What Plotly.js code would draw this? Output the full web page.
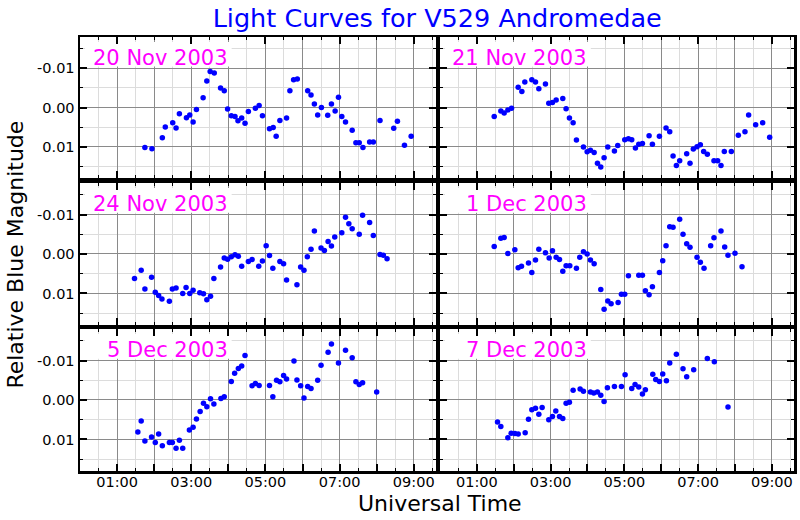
<!DOCTYPE html>
<html>
<head>
<meta charset="utf-8">
<script src="https://cdn.plot.ly/plotly-3.0.1.min.js"></script>
<style>html,body{margin:0;padding:0;background:#fff;}#chart{width:800px;height:520px;}</style>
</head>
<body>
<div id="chart"></div>
<script>
// ---- Data (UT hours, relative blue magnitude) ----
const dateLabels = ["20 Nov 2003", "21 Nov 2003", "24 Nov 2003", "1 Dec 2003", "5 Dec 2003", "7 Dec 2003"];

const t20Nov = [1.75,1.94,2.22,2.30,2.50,2.59,2.68,2.87,2.96,3.05,3.14,3.32,3.42,3.51,3.62,3.79,3.89,3.98,4.08,4.18,4.26,4.36,4.45,4.54,4.73,4.83,4.92,5.11,5.21,5.29,5.39,5.57,5.66,5.76,5.86,6.14,6.23,6.32,6.41,6.51,6.68,6.78,6.88,6.97,7.06,7.16,7.34,7.44,7.53,7.63,7.81,7.91,8.09,8.46,8.56,8.75,8.93];
const m20Nov = [0.0102,0.0105,0.0077,0.0050,0.0039,0.0052,0.0016,0.0026,0.0019,0.0037,0.0005,-0.0025,-0.0068,-0.0092,-0.0088,-0.0050,-0.0043,0.0004,0.0021,0.0023,0.0034,0.0027,0.0040,0.0010,0.0002,-0.0005,0.0021,0.0054,0.0051,0.0073,0.0033,0.0027,-0.0043,-0.0071,-0.0073,-0.0043,-0.0032,-0.0009,0.0019,0.0000,0.0020,-0.0009,0.0009,-0.0026,0.0023,0.0037,0.0058,0.0090,0.0090,0.0102,0.0088,0.0088,0.0033,0.0053,0.0035,0.0096,0.0073];

const t21Nov = [1.47,1.65,1.74,1.84,1.94,2.12,2.22,2.30,2.49,2.59,2.68,2.86,2.95,3.05,3.15,3.33,3.42,3.51,3.61,3.70,3.89,3.99,4.08,4.18,4.27,4.36,4.45,4.55,4.73,4.82,5.01,5.11,5.20,5.30,5.39,5.49,5.67,5.76,5.95,6.13,6.23,6.32,6.41,6.50,6.69,6.78,6.87,6.97,7.06,7.15,7.25,7.43,7.53,7.62,7.71,7.90,8.09,8.27,8.37,8.56,8.75,8.94];
const m21Nov = [0.0023,0.0009,0.0014,0.0006,0.0002,-0.0052,-0.0041,-0.0065,-0.0071,-0.0065,-0.0048,-0.0060,-0.0011,-0.0013,-0.0019,-0.0023,0.0003,0.0027,0.0039,0.0083,0.0101,0.0113,0.0109,0.0115,0.0142,0.0152,0.0128,0.0101,0.0111,0.0097,0.0082,0.0080,0.0082,0.0103,0.0094,0.0092,0.0072,0.0094,0.0073,0.0052,0.0062,0.0124,0.0148,0.0136,0.0118,0.0142,0.0106,0.0100,0.0095,0.0112,0.0119,0.0136,0.0136,0.0148,0.0112,0.0112,0.0071,0.0062,0.0019,0.0044,0.0039,0.0076];

const t24Nov = [1.47,1.65,1.75,1.93,2.03,2.12,2.21,2.41,2.49,2.59,2.77,2.86,2.96,3.05,3.23,3.33,3.42,3.52,3.61,3.79,3.89,3.98,4.08,4.18,4.27,4.36,4.54,4.64,4.82,4.92,5.02,5.11,5.20,5.39,5.49,5.57,5.85,5.95,6.04,6.13,6.23,6.32,6.50,6.59,6.69,6.78,6.87,7.06,7.16,7.25,7.34,7.53,7.62,7.81,7.91,8.09,8.18,8.28];
const m24Nov = [0.0062,0.0041,0.0089,0.0059,0.0097,0.0105,0.0114,0.0120,0.0089,0.0086,0.0100,0.0085,0.0100,0.0092,0.0098,0.0101,0.0116,0.0107,0.0062,0.0033,0.0010,0.0013,0.0007,0.0002,0.0006,0.0031,0.0019,0.0014,0.0031,0.0018,-0.0021,0.0004,0.0036,0.0019,0.0025,0.0066,0.0078,0.0033,0.0041,0.0007,-0.0012,-0.0058,-0.0015,-0.0009,-0.0032,-0.0020,-0.0043,-0.0054,-0.0093,-0.0077,-0.0064,-0.0050,-0.0098,-0.0080,-0.0047,0.0001,0.0003,0.0012];

const t01Dec = [1.47,1.65,1.74,1.84,2.03,2.12,2.21,2.40,2.49,2.59,2.68,2.86,2.96,3.05,3.15,3.24,3.33,3.42,3.52,3.70,3.79,3.89,3.99,4.08,4.18,4.36,4.45,4.55,4.64,4.83,4.92,5.01,5.11,5.39,5.49,5.57,5.67,5.76,5.95,6.04,6.13,6.23,6.32,6.50,6.59,6.69,6.78,6.97,7.06,7.16,7.34,7.43,7.62,7.72,7.81,8.00,8.19];
const m01Dec = [-0.0019,-0.0040,-0.0042,-0.0001,-0.0011,0.0035,0.0031,0.0023,0.0047,0.0015,-0.0012,-0.0003,0.0010,-0.0008,0.0008,0.0014,0.0044,0.0030,0.0030,0.0036,0.0008,-0.0006,0.0000,0.0015,0.0025,0.0090,0.0140,0.0119,0.0126,0.0123,0.0102,0.0102,0.0055,0.0054,0.0054,0.0093,0.0103,0.0083,0.0047,0.0017,-0.0021,-0.0069,-0.0068,-0.0088,-0.0050,-0.0026,-0.0017,0.0008,0.0021,0.0036,-0.0021,-0.0041,-0.0058,-0.0018,0.0003,-0.0002,0.0032];

const t05Dec = [1.56,1.65,1.75,1.93,2.03,2.12,2.22,2.41,2.49,2.59,2.68,2.77,2.95,3.05,3.14,3.24,3.33,3.42,3.52,3.61,3.80,3.89,4.08,4.17,4.27,4.36,4.45,4.64,4.73,4.83,5.11,5.20,5.30,5.39,5.49,5.57,5.77,5.85,5.95,6.04,6.14,6.23,6.41,6.50,6.69,6.78,6.97,7.16,7.34,7.44,7.53,7.62,8.00];
const m05Dec = [0.0081,0.0053,0.0104,0.0094,0.0108,0.0086,0.0116,0.0108,0.0108,0.0122,0.0102,0.0122,0.0076,0.0069,0.0048,0.0029,0.0008,0.0017,-0.0003,0.0010,-0.0004,-0.0008,-0.0047,-0.0068,-0.0080,-0.0086,-0.0113,-0.0036,-0.0042,-0.0037,-0.0037,-0.0008,-0.0050,-0.0046,-0.0062,-0.0053,-0.0099,-0.0051,-0.0036,-0.0005,-0.0034,-0.0029,-0.0050,-0.0088,-0.0121,-0.0142,-0.0094,-0.0126,-0.0107,-0.0046,-0.0039,-0.0044,-0.0020];

const t07Dec = [1.56,1.65,1.84,1.93,2.03,2.12,2.31,2.40,2.49,2.59,2.68,2.77,2.95,3.05,3.14,3.24,3.33,3.42,3.51,3.61,3.80,3.89,4.08,4.17,4.27,4.36,4.45,4.54,4.73,4.92,5.02,5.20,5.29,5.39,5.49,5.57,5.77,5.85,5.95,6.04,6.14,6.23,6.41,6.59,6.69,6.88,7.25,7.44,7.81];
const m07Dec = [0.0056,0.0067,0.0096,0.0084,0.0085,0.0086,0.0083,0.0049,0.0025,0.0021,0.0036,0.0019,0.0050,0.0042,0.0028,0.0042,0.0047,0.0008,0.0006,-0.0025,-0.0028,-0.0022,-0.0020,-0.0018,-0.0020,-0.0012,0.0004,-0.0031,-0.0034,-0.0034,-0.0064,-0.0029,-0.0039,-0.0033,-0.0015,-0.0026,-0.0065,-0.0052,-0.0047,-0.0066,-0.0049,-0.0094,-0.0116,-0.0079,-0.0059,-0.0077,-0.0105,-0.0097,0.0018];

const hourTicks = [1, 2, 3, 4, 5, 6, 7, 8, 9];
const hourLabels = ["01:00", "", "03:00", "", "05:00", "", "07:00", "", "09:00"];
const magTicks = [-0.01, 0, 0.01];
const magLabels = ["-0.01", "0.00", "0.01"];

const titleText = "Light Curves for V529 Andromedae";
const xTitleText = "Universal Time";
const yTitleText = "Relative Blue Magnitude";

const seriesT = [t20Nov, t21Nov, t24Nov, t01Dec, t05Dec, t07Dec];
const seriesM = [m20Nov, m21Nov, m24Nov, m01Dec, m05Dec, m07Dec];

// ---- Layout geometry ----
const font = "DejaVu Sans, Liberation Sans, sans-serif";
const colDomains = [[0, 0.4986], [0.5042, 1]];
const rowDomains = [[0.675, 1], [0.3364, 0.6636], [0, 0.3272]];
const xRange = [0, 9.6];
const yRange = [0.018, -0.018];
// label box in fractions of the panel (left, right, bottom, top)
const boxFrac = [0.014, 0.426, 0.79, 0.965];
const fx = f => xRange[0] + f * (xRange[1] - xRange[0]);
const fy = f => yRange[0] + f * (yRange[1] - yRange[0]);

const traces = [];
const layout = {
  width: 800, height: 520,
  margin: {l: 80, r: 6, t: 37, b: 49},
  paper_bgcolor: "#ffffff",
  plot_bgcolor: "#ffffff",
  showlegend: false,
  font: {family: font, color: "#000000"},
  title: {
    text: titleText,
    font: {family: font, size: 25.5, color: "#0000ff"},
    x: 0.5465, xanchor: "center",
    y: 0.966, yanchor: "middle", yref: "container"
  },
  annotations: [],
  shapes: []
};

for (let i = 0; i < 6; i++) {
  const row = Math.floor(i / 2), col = i % 2;
  const n = i + 1;
  const xName = n === 1 ? "xaxis" : "xaxis" + n;
  const yName = n === 1 ? "yaxis" : "yaxis" + n;
  const xRef = n === 1 ? "x" : "x" + n;
  const yRef = n === 1 ? "y" : "y" + n;

  traces.push({
    type: "scatter", mode: "markers",
    x: seriesT[i], y: seriesM[i],
    xaxis: xRef, yaxis: yRef,
    marker: {color: "#0000ff", size: 5.5},
    hoverinfo: "x+y"
  });

  layout[xName] = {
    domain: colDomains[col],
    anchor: yRef,
    range: xRange,
    tickmode: "array", tickvals: hourTicks, ticktext: hourLabels,
    showticklabels: row === 2,
    ticklabelstandoff: -4,
    tickfont: {family: font, size: 14.5, color: "#000000"},
    ticks: "inside", ticklen: 7, tickwidth: 2, tickcolor: "#000000",
    showline: true, linewidth: 2.5, linecolor: "#000000", mirror: "allticks",
    showgrid: true, gridcolor: "#8a8a8a", gridwidth: 1,
    zeroline: false,
    minor: {tickmode: "linear", tick0: 0, dtick: 0.5, ticks: "inside", ticklen: 3, tickwidth: 1, tickcolor: "#000000", showgrid: true, gridcolor: "#dcdcdc", gridwidth: 1},
    fixedrange: true
  };
  layout[yName] = {
    domain: rowDomains[row],
    anchor: xRef,
    range: yRange,
    tickmode: "array", tickvals: magTicks, ticktext: magLabels,
    showticklabels: col === 0,
    tickfont: {family: font, size: 14.5, color: "#000000"},
    ticks: "inside", ticklen: 7, tickwidth: 2, tickcolor: "#000000",
    showline: true, linewidth: 2.5, linecolor: "#000000", mirror: "allticks",
    showgrid: true, gridcolor: "#8a8a8a", gridwidth: 1,
    zeroline: false,
    minor: {tickmode: "linear", tick0: 0, dtick: 0.005, ticks: "inside", ticklen: 3, tickwidth: 1, tickcolor: "#000000", showgrid: true, gridcolor: "#dcdcdc", gridwidth: 1},
    fixedrange: true
  };

  // white box behind the date label (above the grid, below the markers)
  layout.shapes.push({
    type: "rect", xref: xRef, yref: yRef,
    x0: fx(boxFrac[0]), x1: fx(boxFrac[1]), y0: fy(boxFrac[2]), y1: fy(boxFrac[3]),
    fillcolor: "#ffffff", line: {width: 0}, layer: "between"
  });

  layout.annotations.push({
    text: dateLabels[i],
    xref: xRef + " domain", yref: yRef + " domain",
    x: 0.4215, y: 0.85, xanchor: "right", yanchor: "middle",
    showarrow: false,
    font: {family: font, size: 21, color: "#ff00ff"}
  });
}

layout.annotations.push({
  text: xTitleText, xref: "paper", yref: "paper",
  x: 0.504, y: -0.074, xanchor: "center", yanchor: "middle",
  showarrow: false, font: {family: font, size: 22, color: "#000000"}
});
layout.annotations.push({
  text: yTitleText, xref: "paper", yref: "paper",
  x: -0.09, y: 0.498, xanchor: "center", yanchor: "middle", textangle: -90,
  showarrow: false, font: {family: font, size: 22, color: "#000000"}
});

Plotly.newPlot("chart", traces, layout, {staticPlot: true, displayModeBar: false});
</script>
</body>
</html>
